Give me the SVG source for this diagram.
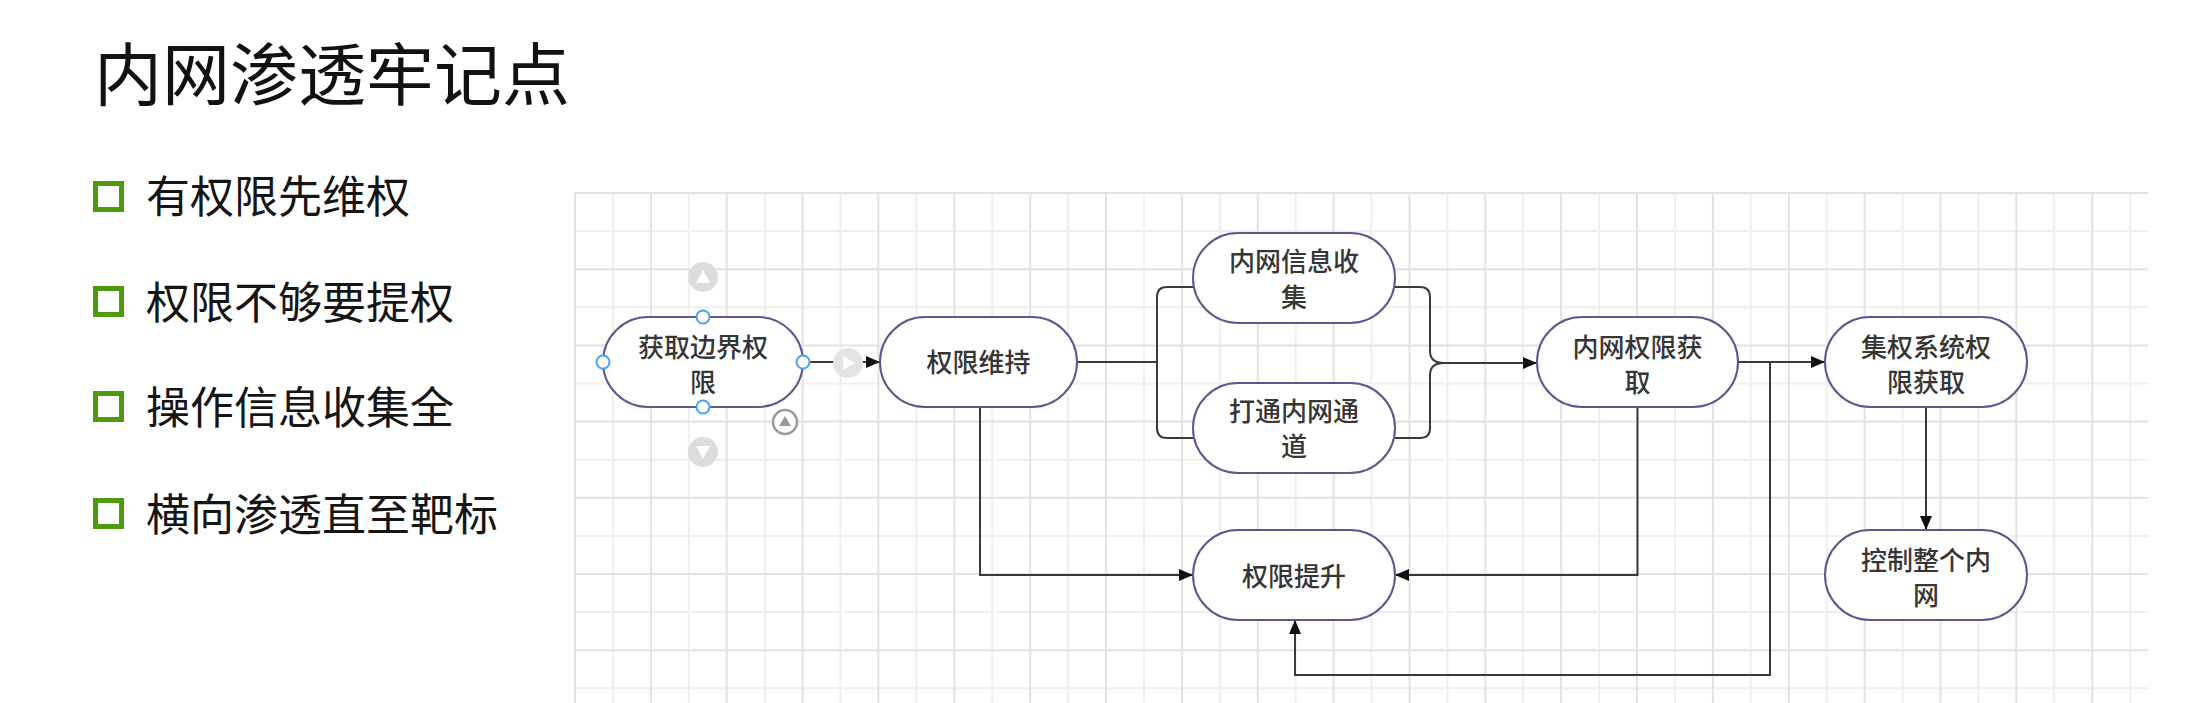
<svg xmlns="http://www.w3.org/2000/svg" width="2192" height="703" viewBox="0 0 2192 703">
<style>
.title{font-family:"Noto Sans CJK SC","Noto Sans",sans-serif;font-size:68px;fill:#111}
.bullet-text{font-family:"Noto Sans CJK SC","Noto Sans",sans-serif;font-size:44px;fill:#151515}
.bullet-box{fill:none;stroke:#4e9a0c;stroke-width:5}
.grid-minor{stroke:#efefef;stroke-width:2;fill:none}
.grid-major{stroke:#e2e2e2;stroke-width:2;fill:none}
.node rect{fill:#ffffff;stroke:#5b5890;stroke-width:2}
.node text{font-family:"Noto Sans CJK SC","Noto Sans",sans-serif;font-size:26px;font-weight:500;fill:#363636;text-anchor:middle}
.conn{fill:none;stroke:#3a3a3a;stroke-width:2}
.handle{fill:#ffffff;stroke:#4aa0f2;stroke-width:2}
.ui-gray{fill:#dcdcdc}
.ui-tri{fill:#ffffff}
</style>
<defs>
<marker id="arrow" markerUnits="userSpaceOnUse" markerWidth="14" markerHeight="12" refX="14" refY="6" orient="auto">
<path d="M0,0 L14,6 L0,12 z" fill="#111"/>
</marker>
</defs>
<rect width="2192" height="703" fill="#ffffff"/>

<g id="title">
<text class="title" x="94" y="100">内网渗透牢记点</text>
</g>

<g id="bullets">
<rect class="bullet-box" x="95.5" y="183.5" width="26" height="26"/>
<text class="bullet-text" x="146" y="213">有权限先维权</text>
<rect class="bullet-box" x="95.5" y="288.5" width="26" height="26"/>
<text class="bullet-text" x="146" y="319">权限不够要提权</text>
<rect class="bullet-box" x="95.5" y="393.5" width="26" height="26"/>
<text class="bullet-text" x="146" y="424">操作信息收集全</text>
<rect class="bullet-box" x="95.5" y="500.5" width="26" height="26"/>
<text class="bullet-text" x="146" y="531">横向渗透直至靶标</text>
</g>

<g id="grid">
<path class="grid-minor" d="M612.9 193V703M688.8 193V703M764.7 193V703M840.5 193V703M916.4 193V703M992.2 193V703M1068.1 193V703M1144 193V703M1219.8 193V703M1295.7 193V703M1371.5 193V703M1447.4 193V703M1523.3 193V703M1599.1 193V703M1675 193V703M1750.8 193V703M1826.7 193V703M1902.6 193V703M1978.4 193V703M2054.3 193V703M2130.1 193V703M575 231.1H2148M575 307.3H2148M575 383.5H2148M575 459.7H2148M575 535.9H2148M575 612.1H2148M575 688.3H2148"/>
<path class="grid-major" d="M575 193V703M650.9 193V703M726.7 193V703M802.6 193V703M878.4 193V703M954.3 193V703M1030.2 193V703M1106 193V703M1181.9 193V703M1257.7 193V703M1333.6 193V703M1409.5 193V703M1485.3 193V703M1561.2 193V703M1637 193V703M1712.9 193V703M1788.8 193V703M1864.6 193V703M1940.5 193V703M2016.3 193V703M2092.2 193V703M575 193H2148M575 269.2H2148M575 345.4H2148M575 421.6H2148M575 497.8H2148M575 574H2148M575 650.2H2148"/>
</g>

<g id="connectors">
<path class="conn" d="M803 362H880" marker-end="url(#arrow)"/>
<path class="conn" d="M1077 362H1157M1193 287H1167Q1157 287 1157 297V428Q1157 438 1167 438H1193"/>
<path class="conn" d="M1395 287H1420Q1430 287 1430 297V351Q1430 363 1444 363M1395 438H1420Q1430 438 1430 428V375Q1430 363 1444 363"/>
<path class="conn" d="M1444 363H1537" marker-end="url(#arrow)"/>
<path class="conn" d="M1738 362H1825" marker-end="url(#arrow)"/>
<path class="conn" d="M1770 362V675H1295V620" marker-end="url(#arrow)"/>
<path class="conn" d="M1637.5 407V575H1395" marker-end="url(#arrow)"/>
<path class="conn" d="M980 407V575H1193" marker-end="url(#arrow)"/>
<path class="conn" d="M1926 407V530" marker-end="url(#arrow)"/>
</g>

<g id="node-boundary" class="node">
<rect x="603" y="317" width="200" height="90" rx="45"/>
<text x="703" y="357">获取边界权</text>
<text x="703" y="392">限</text>
</g>
<g id="node-maintain" class="node">
<rect x="880" y="317" width="197" height="90" rx="45"/>
<text x="978.5" y="372">权限维持</text>
</g>
<g id="node-info" class="node">
<rect x="1193" y="233" width="202" height="90" rx="45"/>
<text x="1294" y="271">内网信息收</text>
<text x="1294" y="307">集</text>
</g>
<g id="node-tunnel" class="node">
<rect x="1193" y="383" width="202" height="90" rx="45"/>
<text x="1294" y="421">打通内网通</text>
<text x="1294" y="456">道</text>
</g>
<g id="node-intranet" class="node">
<rect x="1537" y="317" width="201" height="90" rx="45"/>
<text x="1637.5" y="357">内网权限获</text>
<text x="1637.5" y="392">取</text>
</g>
<g id="node-central" class="node">
<rect x="1825" y="317" width="202" height="90" rx="45"/>
<text x="1926" y="357">集权系统权</text>
<text x="1926" y="392">限获取</text>
</g>
<g id="node-escalate" class="node">
<rect x="1193" y="530" width="202" height="90" rx="45"/>
<text x="1294" y="586">权限提升</text>
</g>
<g id="node-control" class="node">
<rect x="1825" y="530" width="202" height="90" rx="45"/>
<text x="1926" y="570">控制整个内</text>
<text x="1926" y="605">网</text>
</g>

<g id="selection-ui">
<circle class="handle" cx="603" cy="362" r="6.5"/>
<circle class="handle" cx="803" cy="362" r="6.5"/>
<circle class="handle" cx="703" cy="317" r="6.5"/>
<circle class="handle" cx="703" cy="407" r="6.5"/>
<circle class="ui-gray" cx="703" cy="277" r="15"/>
<polygon class="ui-tri" points="703,270 696,283 710,283"/>
<circle class="ui-gray" cx="703" cy="452" r="15"/>
<polygon class="ui-tri" points="696,446 710,446 703,459"/>
<circle cx="848" cy="363" r="15" fill="#e4e4e4"/>
<polygon class="ui-tri" points="843,356 843,370 855,363"/>
<circle cx="785" cy="422" r="12" fill="#ffffff" stroke="#9a9a9a" stroke-width="2.5"/>
<polygon points="785,416 779,426 791,426" fill="#9a9a9a"/>
</g>
</svg>
